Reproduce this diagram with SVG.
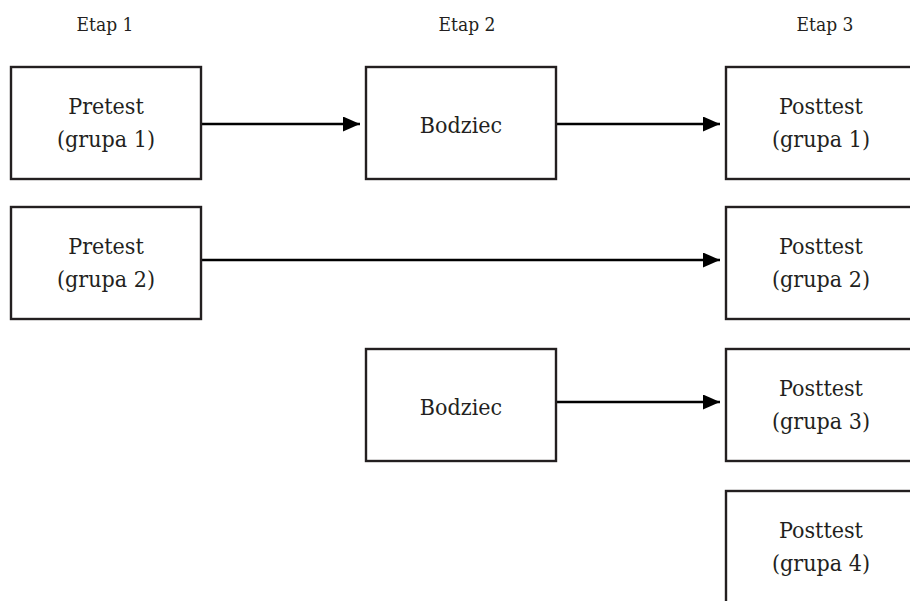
<svg xmlns="http://www.w3.org/2000/svg" width="910" height="601" viewBox="0 0 910 601">
<defs>
<style>
.box{fill:#fff;stroke:#231f20;stroke-width:2.4}
.t{font-family:"DejaVu Serif","Liberation Serif",serif;font-stretch:condensed;font-size:23px;fill:#231f20;text-anchor:middle}
.h{font-family:"DejaVu Serif","Liberation Serif",serif;font-stretch:condensed;font-size:19px;fill:#231f20;text-anchor:middle}
.c{stroke:#000;stroke-width:2.5;fill:none;marker-end:url(#ah)}
</style>
<marker id="ah" markerUnits="userSpaceOnUse" markerWidth="18" markerHeight="16" refX="17" refY="7.5" orient="auto">
<path d="M0,0 L17,7.5 L0,15 Z" fill="#000"/>
</marker>
</defs>
<rect width="910" height="601" fill="#fff"/>
<g id="headers">
<text class="h" x="105" y="31">Etap 1</text>
<text class="h" x="467" y="31">Etap 2</text>
<text class="h" x="825" y="31">Etap 3</text>
</g>
<g id="connectors">
<line class="c" x1="201" y1="124" x2="360" y2="124"/>
<line class="c" x1="556" y1="124" x2="720" y2="124"/>
<line class="c" x1="201" y1="260" x2="720" y2="260"/>
<line class="c" x1="556" y1="402" x2="720" y2="402"/>
</g>
<g id="pretest1"><rect class="box" x="11" y="67" width="190" height="112"/><text class="t" x="106" y="114">Pretest</text><text class="t" x="106" y="147">(grupa 1)</text></g>
<g id="bodziec1"><rect class="box" x="366" y="67" width="190" height="112"/><text class="t" x="461" y="133">Bodziec</text></g>
<g id="posttest1"><rect class="box" x="726" y="67" width="190" height="112"/><text class="t" x="821" y="114">Posttest</text><text class="t" x="821" y="147">(grupa 1)</text></g>
<g id="pretest2"><rect class="box" x="11" y="207" width="190" height="112"/><text class="t" x="106" y="254">Pretest</text><text class="t" x="106" y="287">(grupa 2)</text></g>
<g id="posttest2"><rect class="box" x="726" y="207" width="190" height="112"/><text class="t" x="821" y="254">Posttest</text><text class="t" x="821" y="287">(grupa 2)</text></g>
<g id="bodziec2"><rect class="box" x="366" y="349" width="190" height="112"/><text class="t" x="461" y="415">Bodziec</text></g>
<g id="posttest3"><rect class="box" x="726" y="349" width="190" height="112"/><text class="t" x="821" y="396">Posttest</text><text class="t" x="821" y="429">(grupa 3)</text></g>
<g id="posttest4"><rect class="box" x="726" y="491" width="190" height="130"/><text class="t" x="821" y="538">Posttest</text><text class="t" x="821" y="571">(grupa 4)</text></g>
</svg>
